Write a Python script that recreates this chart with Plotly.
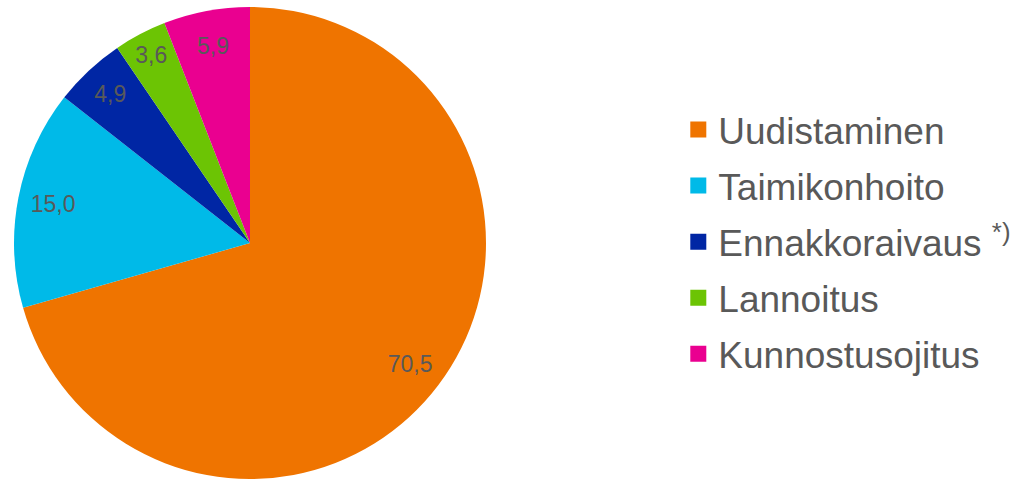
import plotly.graph_objects as go

labels = ["Uudistaminen", "Taimikonhoito", "Ennakkoraivaus", "Lannoitus", "Kunnostusojitus"]
values = [70.5, 15.0, 4.9, 3.6, 5.9]
legend_names = ["Uudistaminen", "Taimikonhoito", "Ennakkoraivaus <sup>*)</sup>", "Lannoitus", "Kunnostusojitus"]
colors = ["#EF7400", "#00BAE8", "#0026A4", "#6CC404", "#EA0090"]

font_family = "Liberation Sans, Arial, sans-serif"
pie_domain = dict(x=[14 / 1020, 486 / 1020], y=[0, 1 - 6 / 480])

fig = go.Figure()

# the coloured pie
fig.add_trace(go.Pie(
    labels=labels,
    values=values,
    sort=False,
    direction="clockwise",
    rotation=0,
    marker=dict(colors=colors, line=dict(width=0)),
    textinfo="none",
    showlegend=False,
    domain=pie_domain,
    hoverinfo="label+value",
))

# transparent ring on top, so the value labels sit near the rim
fig.add_trace(go.Pie(
    labels=labels,
    values=values,
    sort=False,
    direction="clockwise",
    rotation=0,
    hole=0.7,
    marker=dict(colors=["rgba(0,0,0,0)"] * len(values), line=dict(width=0)),
    texttemplate="%{value:.1f}",
    textposition="inside",
    insidetextorientation="horizontal",
    textfont=dict(family=font_family, size=23, color="#595959"),
    showlegend=False,
    domain=pie_domain,
    hoverinfo="skip",
))

# legend entries with bigger square keys
for name, c in zip(legend_names, colors):
    fig.add_trace(go.Scatter(
        x=[None], y=[None],
        mode="markers",
        marker=dict(symbol="square", size=19, color=c),
        name=name,
        legendgroup=name,
    ))

fig.update_layout(
    width=1020,
    height=480,
    autosize=False,
    margin=dict(t=0, b=0, l=0, r=0),
    paper_bgcolor="white",
    plot_bgcolor="white",
    separators=", ",
    xaxis=dict(visible=False),
    yaxis=dict(visible=False),
    legend=dict(
        x=0.665,
        y=0.496,
        xanchor="left",
        yanchor="middle",
        font=dict(family=font_family, size=37, color="#595959"),
        tracegroupgap=5,
        itemwidth=30,
        bgcolor="rgba(0,0,0,0)",
    ),
    showlegend=True,
)

fig.write_html("out.html", config={"displayModeBar": False},
               post_script="document.body.style.margin='0px';")
